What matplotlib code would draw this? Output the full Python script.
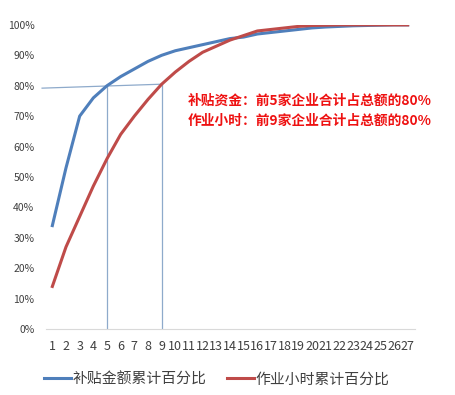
import matplotlib.pyplot as plt
from matplotlib.ticker import PercentFormatter

plt.rcParams['font.family'] = ['Noto Sans CJK SC', 'DejaVu Sans']

# enterprise rank 1..27
ranks = list(range(1, 28))
# cumulative share of subsidy amount
subsidy_cum = [0.34, 0.53, 0.70, 0.76, 0.80, 0.83, 0.855, 0.88, 0.90, 0.915, 0.925, 0.935,
               0.945, 0.955, 0.96, 0.97, 0.975, 0.98, 0.985, 0.99, 0.993, 0.995, 0.997,
               0.998, 0.999, 1.0, 1.0]
# cumulative share of working hours
hours_cum = [0.14, 0.27, 0.37, 0.47, 0.56, 0.64, 0.70, 0.755, 0.805, 0.845, 0.88, 0.91,
             0.93, 0.95, 0.965, 0.98, 0.985, 0.99, 0.995, 0.998, 0.999, 1.0, 1.0,
             1.0, 1.0, 1.0, 1.0]
labels = ['补贴金额累计百分比', '作业小时累计百分比']
note = ['补贴资金：前5家企业合计占总额的80%', '作业小时：前9家企业合计占总额的80%']
cut_subsidy = 5
cut_hours = 9

fig = plt.figure(figsize=(4.55, 3.95), dpi=100)
ax = fig.add_axes([0.1, 0.167, 0.811, 0.77])

guide = '#8eaacb'
ax.plot([cut_subsidy, cut_subsidy], [0, subsidy_cum[cut_subsidy - 1]], color=guide, lw=0.9, zorder=1)
ax.plot([cut_hours, cut_hours], [0, hours_cum[cut_hours - 1]], color=guide, lw=0.9, zorder=1)
ax.plot([0.25, cut_hours], [0.792, hours_cum[cut_hours - 1]], color=guide, lw=0.9, zorder=1,
        clip_on=False)

ax.plot(ranks, subsidy_cum, color='#4f7fbb', lw=2.2, label=labels[0], zorder=3)
ax.plot(ranks, hours_cum, color='#bf4b49', lw=2.2, label=labels[1], zorder=3)

ax.text(0.386, 0.772, note[0] + '\n' + note[1], transform=ax.transAxes, color='#ee1111',
        fontsize=9.9, fontweight='bold', va='top', ha='left', linespacing=1.55)

ax.set_xlim(0.5, 27.5)
ax.set_ylim(0, 1)
ax.set_xticks(ranks)
ax.set_yticks([i / 10 for i in range(11)])
ax.yaxis.set_major_formatter(PercentFormatter(1.0, decimals=0))
ax.tick_params(length=0, labelsize=7.5, colors='#404040')
ax.tick_params(axis='x', pad=8, labelsize=9)
ax.tick_params(axis='y', pad=8)
for s in ['top', 'right', 'left']:
    ax.spines[s].set_visible(False)
ax.spines['bottom'].set_color('#d9d9d9')

leg = fig.legend(loc='lower center', bbox_to_anchor=(0.476, -0.012), ncol=2, frameon=False,
                 fontsize=10.7, handlelength=1.8, handletextpad=0.1, columnspacing=1.4)
for t in leg.get_texts():
    t.set_color('#404040')

fig.savefig('out.png', dpi=100)
